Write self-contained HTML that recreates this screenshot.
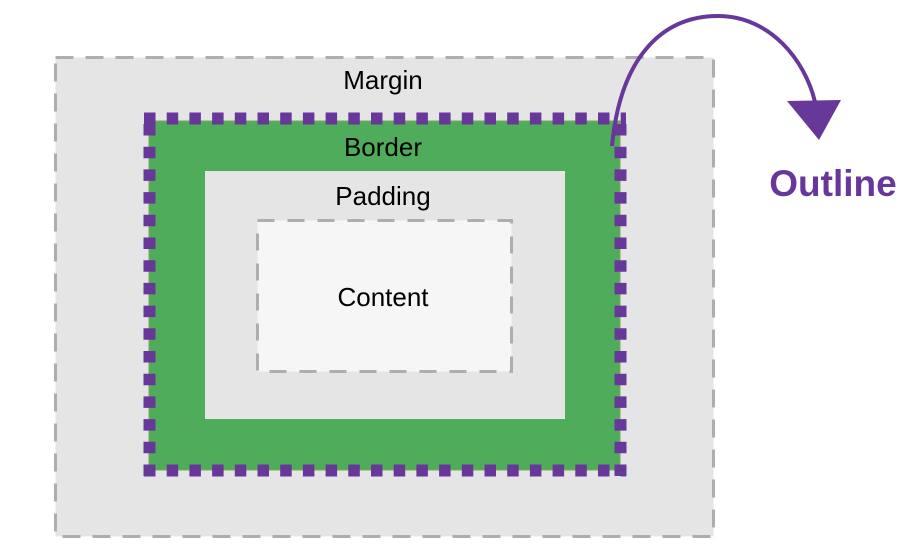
<!DOCTYPE html>
<html><head><style>body{margin:0;background:#fff}svg{display:block}</style></head>
<body>
<svg width="922" height="554" viewBox="0 0 922 554" xmlns="http://www.w3.org/2000/svg" font-family="Liberation Sans, sans-serif">
<rect x="55.5" y="57.5" width="658" height="479" fill="#e5e5e5" stroke="#aeaeae" stroke-width="3" stroke-dasharray="18 12"/>
<rect x="149" y="121" width="471" height="349" fill="#4fac5b" stroke="#7da84f" stroke-width="1"/>
<rect x="205" y="171" width="360" height="248" fill="#e5e5e5"/>
<rect x="257.5" y="220.5" width="254" height="151" fill="#f6f6f6" stroke="#aeaeae" stroke-width="3" stroke-dasharray="17 13"/>
<g stroke="#68379a" stroke-width="12" fill="none" stroke-dasharray="11.5 11.2">
<line x1="144" y1="118.5" x2="626" y2="118.5"/>
<line x1="149.5" y1="124" x2="149.5" y2="476"/>
<line x1="620.5" y1="124" x2="620.5" y2="476"/>
<line x1="144" y1="470.5" x2="626" y2="470.5"/>
</g>
<path d="M612 146 C620 60 660 16 718 16 C770 16 805 60 815 102" stroke="#68379a" stroke-width="4" fill="none"/>
<polygon points="787,101 841,100 819,140" fill="#68379a"/>
<g font-size="26" text-anchor="middle" fill="#000">
<text x="383" y="89">Margin</text>
<text x="383" y="156">Border</text>
<text x="383" y="205">Padding</text>
<text x="383" y="306">Content</text>
</g>
<text x="833" y="196" font-size="37" font-weight="bold" fill="#68379a" text-anchor="middle">Outline</text>
</svg>
</body></html>
